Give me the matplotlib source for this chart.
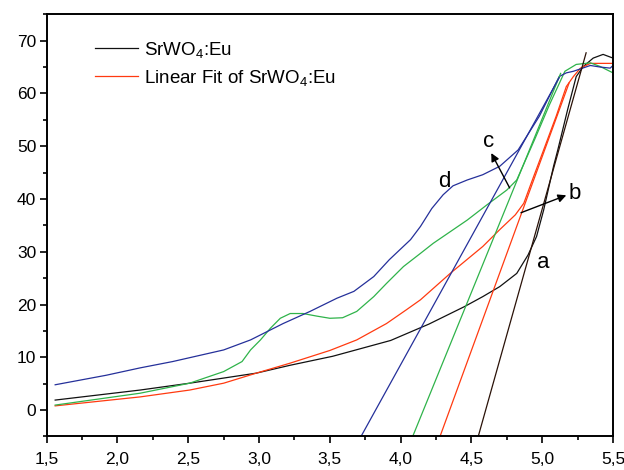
import matplotlib.pyplot as plt
import numpy as np
from matplotlib.ticker import MultipleLocator, FuncFormatter

plt.rcParams['font.family'] = ['Liberation Sans', 'DejaVu Sans']
plt.rcParams['mathtext.fontset'] = 'custom'
plt.rcParams['mathtext.rm'] = 'Liberation Sans'
plt.rcParams['mathtext.it'] = 'Liberation Sans'

# absorption edge curves (photon energy, intensity)
a_x = [1.56, 2.16, 2.51, 2.98, 3.22, 3.52, 3.93, 4.20, 4.45, 4.58, 4.70, 4.82, 4.90,
       4.96, 5.01, 5.08, 5.11, 5.18, 5.24, 5.29, 5.36, 5.43, 5.46, 5.50]
a_y = [1.9, 3.8, 5.1, 7.0, 8.5, 10.2, 13.2, 16.3, 19.6, 21.5, 23.4, 25.9, 29.4,
       32.9, 37.9, 46.2, 49.3, 57.0, 63.2, 65.1, 66.7, 67.4, 67.1, 66.7]

b_x = [1.56, 2.16, 2.51, 2.75, 2.98, 3.22, 3.50, 3.69, 3.90, 4.04, 4.14, 4.35, 4.58,
       4.70, 4.81, 4.87, 4.94, 5.01, 5.10, 5.17, 5.22, 5.27, 5.34, 5.41, 5.50]
b_y = [0.8, 2.5, 3.8, 5.1, 7.0, 8.9, 11.3, 13.3, 16.4, 19.0, 20.9, 25.9, 31.0,
       34.2, 37.0, 39.2, 44.3, 49.3, 55.8, 61.3, 63.2, 64.8, 65.7, 65.7, 65.7]

c_x = [1.56, 2.16, 2.51, 2.75, 2.88, 2.94, 3.01, 3.08, 3.15, 3.22, 3.31, 3.41, 3.50,
       3.59, 3.69, 3.81, 3.90, 4.02, 4.14, 4.23, 4.47, 4.61, 4.75, 4.82, 4.95,
       5.05, 5.16, 5.24, 5.34, 5.41, 5.50]
c_y = [0.95, 3.2, 5.1, 7.3, 9.2, 11.4, 13.3, 15.5, 17.4, 18.3, 18.3, 17.8, 17.4,
       17.5, 18.7, 21.5, 24.0, 27.2, 29.7, 31.6, 36.0, 38.9, 41.7, 43.6, 51.5,
       57.8, 64.2, 65.5, 65.8, 65.1, 63.9]

d_x = [1.56, 1.92, 2.16, 2.39, 2.75, 2.94, 3.17, 3.36, 3.55, 3.67, 3.81, 3.92, 4.07,
       4.14, 4.22, 4.30, 4.37, 4.47, 4.58, 4.70, 4.83, 4.98, 5.12, 5.17, 5.22, 5.34,
       5.41, 5.48, 5.50]
d_y = [4.8, 6.6, 8.0, 9.2, 11.4, 13.3, 16.4, 18.7, 21.2, 22.5, 25.3, 28.5, 32.3,
       34.8, 38.2, 40.8, 42.5, 43.6, 44.6, 46.2, 49.3, 55.7, 63.2, 63.9, 64.2, 65.3,
       65.0, 64.8, 65.3]

# linear fits of the edges: (x_start, y_start, x_end, y_end)
fit_a = [4.548, -5.0, 5.31, 67.7]
fit_b = [4.278, -5.0, 5.19, 62.0]
fit_c = [4.085, -5.0, 5.13, 63.8]
fit_d = [3.72, -5.0, 5.12, 63.0]

c_black = '#111111'
c_red = '#ff3a10'
c_green = '#2fb34a'
c_blue = '#25309a'

fig = plt.figure(figsize=(6.24, 4.70), dpi=100)
ax = fig.add_axes([0.0748, 0.0713, 0.9076, 0.8983])

lw = 0.9
ax.plot(a_x, a_y, color=c_black, lw=lw, label=r'SrWO$_4$:Eu')
ax.plot(b_x, b_y, color=c_red, lw=lw)
ax.plot(c_x, c_y, color=c_green, lw=lw)
ax.plot(d_x, d_y, color=c_blue, lw=lw)

ax.plot(fit_b[0::2], fit_b[1::2], color=c_red, lw=lw, label=r'Linear Fit of SrWO$_4$:Eu')
ax.plot(fit_c[0::2], fit_c[1::2], color=c_green, lw=lw)
ax.plot(fit_d[0::2], fit_d[1::2], color=c_blue, lw=lw)
ax.plot(fit_a[0::2], fit_a[1::2], color='#2a1208', lw=lw)

ax.set_xlim(1.5, 5.5)
ax.set_ylim(-5, 75)

ax.xaxis.set_major_locator(MultipleLocator(0.5))
ax.xaxis.set_minor_locator(MultipleLocator(0.25))
ax.yaxis.set_major_locator(MultipleLocator(10))
ax.yaxis.set_minor_locator(MultipleLocator(5))
ax.xaxis.set_major_formatter(FuncFormatter(lambda v, p: f'{v:.1f}'.replace('.', ',')))
ax.set_yticks([0, 10, 20, 30, 40, 50, 60, 70])

ax.tick_params(which='major', direction='out', length=5, width=1.2, labelsize=12.5,
               top=False, right=False)
ax.tick_params(axis='x', which='major', pad=6)
ax.tick_params(axis='y', which='major', pad=2.5)
ax.tick_params(which='minor', direction='out', length=3, width=1.2, top=False, right=False)
for s in ax.spines.values():
    s.set_linewidth(1.4)

# curve labels
tsize = 16
ax.text(5.005, 27.9, 'a', fontsize=tsize, ha='center', va='center')
ax.text(5.23, 41.1, 'b', fontsize=tsize, ha='center', va='center')
ax.text(4.62, 50.9, 'c', fontsize=tsize, ha='center', va='center')
ax.text(4.31, 43.3, 'd', fontsize=tsize, ha='center', va='center')
arrow = dict(arrowstyle='-|>', color='k', lw=1.0, mutation_scale=12, shrinkA=0, shrinkB=0)
ax.annotate('', xy=(5.17, 40.7), xytext=(4.85, 37.4), arrowprops=arrow)
ax.annotate('', xy=(4.64, 48.7), xytext=(4.77, 42.1), arrowprops=arrow)

ax.legend(loc='upper left', bbox_to_anchor=(0.085, 0.94), frameon=False,
          fontsize=13.5, handlelength=2.3, handletextpad=0.3, labelspacing=0.45,
          borderpad=0, borderaxespad=0)

fig.savefig('out.png', dpi=100)
